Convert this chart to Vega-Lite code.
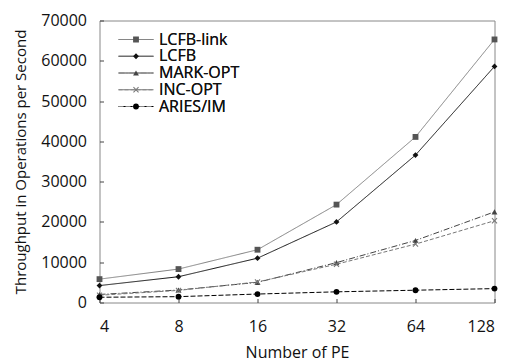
{
  "$schema": "https://vega.github.io/schema/vega-lite/v6.json",
  "width": 395,
  "height": 282,
  "autosize": {"type": "none"},
  "padding": {"left": 99.5, "top": 20.5, "right": 19.5, "bottom": 58.5},
  "config": {
    "view": {"stroke": "#888", "strokeWidth": 1},
    "font": "Open Sans",
    "axis": {
      "grid": false,
      "domain": false,
      "tickSize": -4,
      "tickColor": "#444",
      "labelFontSize": 16,
      "labelColor": "#111",
      "titleFontSize": 15,
      "titleFontWeight": "normal",
      "titleColor": "#111"
    }
  },
  "data": {
    "values": [
      {"pe": 4, "series": "LCFB-link", "value": 5800},
      {"pe": 8, "series": "LCFB-link", "value": 8300},
      {"pe": 16, "series": "LCFB-link", "value": 13100},
      {"pe": 32, "series": "LCFB-link", "value": 24300},
      {"pe": 64, "series": "LCFB-link", "value": 41100},
      {"pe": 128, "series": "LCFB-link", "value": 65300},
      {"pe": 4, "series": "LCFB", "value": 4200},
      {"pe": 8, "series": "LCFB", "value": 6400},
      {"pe": 16, "series": "LCFB", "value": 11000},
      {"pe": 32, "series": "LCFB", "value": 20000},
      {"pe": 64, "series": "LCFB", "value": 36600},
      {"pe": 128, "series": "LCFB", "value": 58600},
      {"pe": 4, "series": "MARK-OPT", "value": 2000},
      {"pe": 8, "series": "MARK-OPT", "value": 3100},
      {"pe": 16, "series": "MARK-OPT", "value": 5000},
      {"pe": 32, "series": "MARK-OPT", "value": 9900},
      {"pe": 64, "series": "MARK-OPT", "value": 15400},
      {"pe": 128, "series": "MARK-OPT", "value": 22500},
      {"pe": 4, "series": "INC-OPT", "value": 1800},
      {"pe": 8, "series": "INC-OPT", "value": 3000},
      {"pe": 16, "series": "INC-OPT", "value": 5100},
      {"pe": 32, "series": "INC-OPT", "value": 9500},
      {"pe": 64, "series": "INC-OPT", "value": 14500},
      {"pe": 128, "series": "INC-OPT", "value": 20300},
      {"pe": 4, "series": "ARIES/IM", "value": 1300},
      {"pe": 8, "series": "ARIES/IM", "value": 1450},
      {"pe": 16, "series": "ARIES/IM", "value": 2100},
      {"pe": 32, "series": "ARIES/IM", "value": 2650},
      {"pe": 64, "series": "ARIES/IM", "value": 3050},
      {"pe": 128, "series": "ARIES/IM", "value": 3450}
    ]
  },
  "encoding": {
    "x": {
      "field": "pe",
      "type": "quantitative",
      "scale": {"type": "log", "base": 2, "domain": [4, 128], "nice": false},
      "axis": {"title": "Number of PE", "titleFontSize": 16, "values": [4, 8, 16, 32, 64, 128], "format": "d", "labelPadding": 19.5, "titlePadding": 10}
    },
    "y": {
      "field": "value",
      "type": "quantitative",
      "scale": {"domain": [0, 70000], "nice": false},
      "axis": {"title": "Throughput in Operations per Second", "values": [0, 10000, 20000, 30000, 40000, 50000, 60000, 70000], "format": "d", "labelPadding": 17, "titlePadding": 12}
    }
  },
  "layer": [
    {
      "mark": {"type": "line", "strokeWidth": 1},
      "encoding": {
        "stroke": {
          "field": "series", "type": "nominal",
          "sort": ["LCFB-link", "LCFB", "MARK-OPT", "INC-OPT", "ARIES/IM"],
          "scale": {"range": ["#808080", "#111111", "#444444", "#777777", "#000000"]},
          "legend": {"orient": "none", "legendX": 18.5, "legendY": 11, "title": null, "symbolType": "stroke", "symbolSize": 1225, "symbolStrokeWidth": 1, "clipHeight": 16, "rowPadding": 0.75, "labelFontSize": 16, "labelOffset": 5, "labelColor": "#111", "padding": 0}
        },
        "strokeDash": {
          "field": "series", "type": "nominal",
          "sort": ["LCFB-link", "LCFB", "MARK-OPT", "INC-OPT", "ARIES/IM"],
          "scale": {"range": [[1, 0], [1, 0], [6, 2, 1, 2], [4, 2], [5, 2]]},
          "legend": {"orient": "none", "legendX": 18.5, "legendY": 11, "title": null, "symbolType": "stroke", "symbolSize": 1225, "symbolStrokeWidth": 1, "clipHeight": 16, "rowPadding": 0.75, "labelFontSize": 16, "labelOffset": 5, "labelColor": "#111", "padding": 0}
        },
        "strokeWidth": {
          "field": "series", "type": "ordinal",
          "sort": ["LCFB-link", "LCFB", "MARK-OPT", "INC-OPT", "ARIES/IM"],
          "scale": {"range": [1, 1, 1, 1, 1.8]},
          "legend": null
        }
      }
    },
    {
      "mark": {"type": "point", "filled": true, "opacity": 1, "size": 34},
      "encoding": {
        "fill": {
          "field": "series", "type": "nominal",
          "scale": {"domain": ["LCFB-link", "LCFB", "MARK-OPT", "INC-OPT", "ARIES/IM"], "range": ["#555555", "#111111", "#444444", "#777777", "#000000"]},
          "legend": {"orient": "none", "legendX": 33.5, "legendY": 11, "title": null, "symbolSize": 34, "symbolStrokeWidth": 0, "clipHeight": 16, "rowPadding": 0.75, "labelFontSize": 1, "labelExpr": "''", "padding": 0}
        },
        "shape": {
          "field": "series", "type": "nominal",
          "scale": {"domain": ["LCFB-link", "LCFB", "MARK-OPT", "INC-OPT", "ARIES/IM"], "range": ["square", "diamond", "triangle-up", "M-1,-0.75L-0.75,-1L0,-0.25L0.75,-1L1,-0.75L0.25,0L1,0.75L0.75,1L0,0.25L-0.75,1L-1,0.75L-0.25,0Z", "circle"]},
          "legend": {"orient": "none", "legendX": 33.5, "legendY": 11, "title": null, "symbolSize": 34, "symbolStrokeWidth": 0, "clipHeight": 16, "rowPadding": 0.75, "labelFontSize": 1, "labelExpr": "''", "padding": 0}
        }
      }
    }
  ]
}
